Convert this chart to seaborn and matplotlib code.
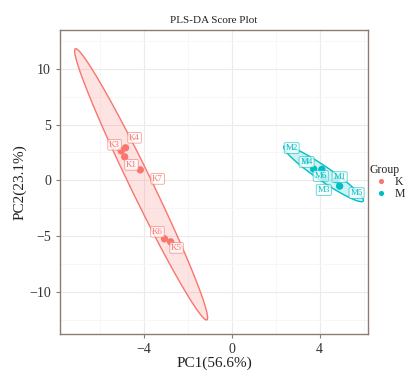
import seaborn as sns
import numpy as np
import pandas as pd
import matplotlib.pyplot as plt
from matplotlib.patches import Polygon

samples = ['K3', 'K4', 'K1', 'K7', 'K6', 'K5', 'M2', 'M4', 'M6', 'M3', 'M1', 'M5']
groups = ['K'] * 6 + ['M'] * 6
pc1 = [-5.02, -4.82, -4.86, -4.15, -3.05, -2.77, 3.38, 3.73, 4.10, 4.19, 4.77, 4.91]
pc2 = [2.65, 2.92, 2.11, 0.94, -5.25, -5.52, 1.75, 1.01, 0.98, 0.24, 0.06, -0.52]
# label offsets (repelled labels)
lab_dx = [-0.30, 0.41, 0.31, 0.79, -0.32, 0.27, -0.65, -0.32, -0.05, 0.0, 0.14, 0.77]
lab_dy = [0.54, 0.90, -0.72, -0.81, 0.63, -0.54, 1.15, 0.64, -0.59, -1.11, 0.23, -0.62]
colors = {'K': '#F8766D', 'M': '#00BFC4'}

df = pd.DataFrame({'sample': samples, 'Group': groups, 'PC1': pc1, 'PC2': pc2})

sns.set_style('white')
plt.rcParams['font.family'] = ['Liberation Serif', 'DejaVu Serif']

fig = plt.figure(figsize=(4.08, 3.84), dpi=100)
ax = fig.add_axes([0.147, 0.130, 0.755, 0.792])


def ellipse_pts(x, y, level=0.93, n=200):
    x = np.asarray(x)
    y = np.asarray(y)
    k = len(x)
    cov = np.cov(x, y)
    fq = ((k - 1) / 2.0) * ((1 - level) ** (-2.0 / (k - 1)) - 1)
    r = np.sqrt(2 * fq)
    vals, vecs = np.linalg.eigh(cov)
    t = np.linspace(0, 2 * np.pi, n)
    circ = np.vstack([np.cos(t), np.sin(t)])
    pts = vecs @ (np.sqrt(vals)[:, None] * circ) * r
    return pts[0] + x.mean(), pts[1] + y.mean()


for g in ['K', 'M']:
    sub = df[df['Group'] == g]
    ex, ey = ellipse_pts(sub['PC1'], sub['PC2'])
    ax.add_patch(Polygon(np.column_stack([ex, ey]), closed=True,
                         facecolor=colors[g], alpha=0.2, edgecolor='none'))
    ax.plot(ex, ey, color=colors[g], lw=1.0)

sns.scatterplot(data=df, x='PC1', y='PC2', hue='Group', palette=colors,
                s=28, edgecolor='none', ax=ax, zorder=3)

for i in range(len(samples)):
    c = colors[groups[i]]
    ax.text(pc1[i] + lab_dx[i], pc2[i] + lab_dy[i], samples[i], fontsize=6.5,
            color=c, ha='center', va='center', zorder=4,
            bbox=dict(boxstyle='round,pad=0.15', fc='white', ec=c, lw=0.6, alpha=0.7))

ax.set_xlim(-7.8, 6.2)
ax.set_ylim(-13.8, 13.5)
ax.set_xticks([-4, 0, 4])
ax.set_yticks([-10, -5, 0, 5, 10])
ax.set_xticks([-6, -2, 2, 6], minor=True)
ax.set_yticks([-12.5, -7.5, -2.5, 2.5, 7.5, 12.5], minor=True)
ax.grid(True, which='major', color='#EBEBEB', lw=0.8)
ax.grid(True, which='minor', color='#F4F4F4', lw=0.5)
ax.set_axisbelow(True)
for s in ax.spines.values():
    s.set_color('#8C7B75')
    s.set_linewidth(1.0)
ax.tick_params(axis='both', which='major', length=3, color='#8C7B75',
               labelsize=10, labelcolor='#333333', direction='out', bottom=True, left=True)
ax.tick_params(axis='both', which='minor', length=0)
ax.set_xlabel('PC1(56.6%)', fontsize=11, labelpad=0, color='#222222')
ax.set_ylabel('PC2(23.1%)', fontsize=11, labelpad=2, color='#222222')
ax.set_title('PLS-DA Score Plot', fontsize=8, pad=5, color='#222222')

leg = ax.legend(title='Group', loc='center left', bbox_to_anchor=(0.99, 0.5),
                frameon=False, fontsize=8.5, title_fontsize=8.5, handletextpad=0.1,
                borderaxespad=0.0, labelspacing=0.0, markerscale=0.7)
leg._legend_box.align = 'left'

fig.savefig('out.png', dpi=100)
